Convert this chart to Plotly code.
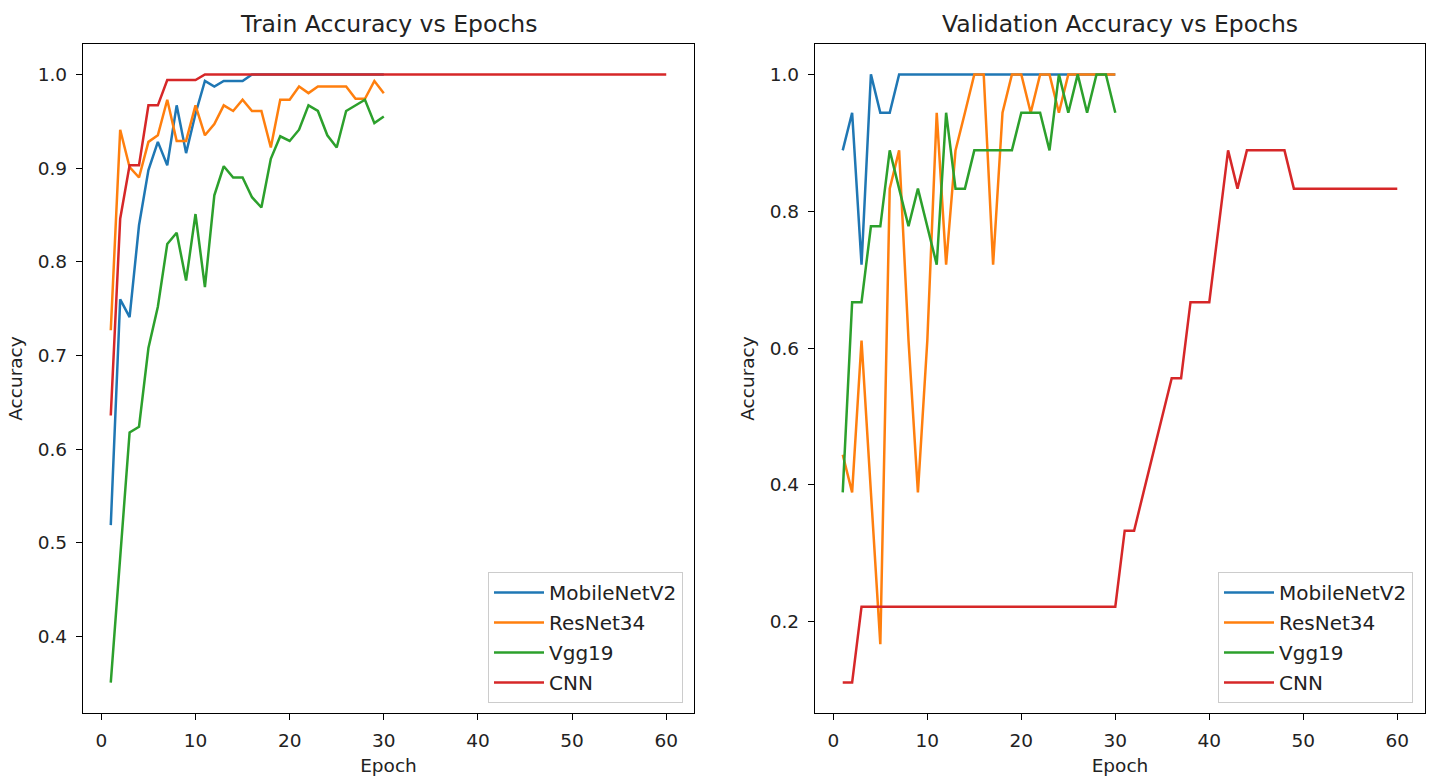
import plotly.graph_objects as go

# ---------------- data ----------------
epochs_30 = list(range(1, 31))
epochs_60 = list(range(1, 61))

models = ["MobileNetV2", "ResNet34", "Vgg19", "CNN"]
colors = ["#1f77b4", "#ff7f0e", "#2ca02c", "#d62728"]

train_mobilenet = [0.519, 0.760, 0.741, 0.839, 0.898, 0.928, 0.903, 0.967, 0.916, 0.958,
                   0.993, 0.987, 0.993, 0.993, 0.993, 1.0, 1.0, 1.0, 1.0, 1.0,
                   1.0, 1.0, 1.0, 1.0, 1.0, 1.0, 1.0, 1.0, 1.0, 1.0]
train_resnet = [0.727, 0.941, 0.901, 0.890, 0.928, 0.935, 0.973, 0.929, 0.929, 0.967,
                0.935, 0.947, 0.967, 0.961, 0.973, 0.961, 0.961, 0.922, 0.973, 0.973,
                0.987, 0.980, 0.987, 0.987, 0.987, 0.987, 0.974, 0.974, 0.993, 0.980]
train_vgg = [0.351, 0.484, 0.618, 0.624, 0.708, 0.752, 0.819, 0.831, 0.780, 0.851,
             0.773, 0.871, 0.902, 0.890, 0.890, 0.869, 0.858, 0.910, 0.934, 0.929,
             0.941, 0.967, 0.961, 0.935, 0.922, 0.961, 0.967, 0.973, 0.948, 0.955]
train_cnn = [0.636, 0.846, 0.903, 0.903, 0.967, 0.967, 0.994, 0.994, 0.994, 0.994,
             1.0, 1.0, 1.0, 1.0, 1.0, 1.0, 1.0, 1.0, 1.0, 1.0,
             1.0, 1.0, 1.0, 1.0, 1.0, 1.0, 1.0, 1.0, 1.0, 1.0,
             1.0, 1.0, 1.0, 1.0, 1.0, 1.0, 1.0, 1.0, 1.0, 1.0,
             1.0, 1.0, 1.0, 1.0, 1.0, 1.0, 1.0, 1.0, 1.0, 1.0,
             1.0, 1.0, 1.0, 1.0, 1.0, 1.0, 1.0, 1.0, 1.0, 1.0]

val_mobilenet = [0.889, 0.944, 0.722, 1.0, 0.944, 0.944, 1.0, 1.0, 1.0, 1.0,
                 1.0, 1.0, 1.0, 1.0, 1.0, 1.0, 1.0, 1.0, 1.0, 1.0,
                 1.0, 1.0, 1.0, 1.0, 1.0, 1.0, 1.0, 1.0, 1.0, 1.0]
val_resnet = [0.444, 0.389, 0.611, 0.389, 0.167, 0.833, 0.889, 0.611, 0.389, 0.611,
              0.944, 0.722, 0.889, 0.944, 1.0, 1.0, 0.722, 0.944, 1.0, 1.0,
              0.944, 1.0, 1.0, 0.944, 1.0, 1.0, 1.0, 1.0, 1.0, 1.0]
val_vgg = [0.389, 0.667, 0.667, 0.778, 0.778, 0.889, 0.833, 0.778, 0.833, 0.778,
           0.722, 0.944, 0.833, 0.833, 0.889, 0.889, 0.889, 0.889, 0.889, 0.944,
           0.944, 0.944, 0.889, 1.0, 0.944, 1.0, 0.944, 1.0, 1.0, 0.944]
val_cnn = [0.111, 0.111, 0.222, 0.222, 0.222, 0.222, 0.222, 0.222, 0.222, 0.222,
           0.222, 0.222, 0.222, 0.222, 0.222, 0.222, 0.222, 0.222, 0.222, 0.222,
           0.222, 0.222, 0.222, 0.222, 0.222, 0.222, 0.222, 0.222, 0.222, 0.222,
           0.333, 0.333, 0.389, 0.444, 0.500, 0.556, 0.556, 0.667, 0.667, 0.667,
           0.778, 0.889, 0.833, 0.889, 0.889, 0.889, 0.889, 0.889, 0.833, 0.833,
           0.833, 0.833, 0.833, 0.833, 0.833, 0.833, 0.833, 0.833, 0.833, 0.833]

x_ticks = [0, 10, 20, 30, 40, 50, 60]
left_y_ticks = [0.4, 0.5, 0.6, 0.7, 0.8, 0.9, 1.0]
right_y_ticks = [0.2, 0.4, 0.6, 0.8, 1.0]

titles = ["Train Accuracy vs Epochs", "Validation Accuracy vs Epochs"]

# ---------------- figure ----------------
W, H = 1432, 780
FONT = "DejaVu Sans"

train_series = [(epochs_30, train_mobilenet), (epochs_30, train_resnet),
                (epochs_30, train_vgg), (epochs_60, train_cnn)]
val_series = [(epochs_30, val_mobilenet), (epochs_30, val_resnet),
              (epochs_30, val_vgg), (epochs_60, val_cnn)]


def padded(lo, hi, frac=0.05):
    m = (hi - lo) * frac
    return [lo - m, hi + m]


fig = go.Figure()
for i, (name, col) in enumerate(zip(models, colors)):
    xs, ys = train_series[i]
    fig.add_trace(go.Scatter(x=xs, y=ys, mode="lines", name=name,
                             line=dict(color=col, width=2.5),
                             xaxis="x", yaxis="y", legend="legend",
                             legendgroup=f"tr{i}"))
for i, (name, col) in enumerate(zip(models, colors)):
    xs, ys = val_series[i]
    fig.add_trace(go.Scatter(x=xs, y=ys, mode="lines", name=name,
                             line=dict(color=col, width=2.5),
                             xaxis="x2", yaxis="y2", legend="legend2",
                             legendgroup=f"va{i}"))

all_x = epochs_60
xr = padded(min(all_x), max(all_x))
tr_all = train_mobilenet + train_resnet + train_vgg + train_cnn
va_all = val_mobilenet + val_resnet + val_vgg + val_cnn
yr_left = padded(min(tr_all), max(tr_all))
yr_right = padded(min(va_all), max(va_all))

left_dom = [83 / W, 694 / W]
right_dom = [815 / W, 1425 / W]
y_dom = [(H - 713) / H, (H - 44) / H]

axis_common = dict(showline=True, linecolor="black", linewidth=1.3, mirror=True,
                   ticks="outside", ticklen=6, tickwidth=1.3, tickcolor="black",
                   showgrid=False, zeroline=False,
                   tickfont=dict(family=FONT, size=18.5, color="#222"),
                   ticklabelstandoff=5)

legend_common = dict(y=(H - 703) / H, yanchor="bottom",
                     bgcolor="rgba(255,255,255,0.8)", bordercolor="#cccccc", borderwidth=1,
                     font=dict(family=FONT, size=20, color="#222"),
                     tracegroupgap=1, itemwidth=50)

fig.update_layout(
    width=W, height=H,
    paper_bgcolor="white", plot_bgcolor="white",
    margin=dict(l=0, r=0, t=0, b=0, autoexpand=False),
    font=dict(family=FONT, color="#222"),
    xaxis=dict(domain=left_dom, anchor="y", range=xr, tickvals=x_ticks,
               title=dict(text="Epoch", font=dict(size=18.5), standoff=8), **axis_common),
    yaxis=dict(domain=y_dom, anchor="x", range=yr_left, tickvals=left_y_ticks,
               tickformat=".1f",
               title=dict(text="Accuracy", font=dict(size=18.5), standoff=10), **axis_common),
    xaxis2=dict(domain=right_dom, anchor="y2", range=xr, tickvals=x_ticks,
                title=dict(text="Epoch", font=dict(size=18.5), standoff=8), **axis_common),
    yaxis2=dict(domain=y_dom, anchor="x2", range=yr_right, tickvals=right_y_ticks,
                tickformat=".1f",
                title=dict(text="Accuracy", font=dict(size=18.5), standoff=10), **axis_common),
    legend=dict(x=683 / W, xanchor="right", **legend_common),
    legend2=dict(x=1413 / W, xanchor="right", **legend_common),
    showlegend=True,
)

for dom, txt in zip([left_dom, right_dom], titles):
    fig.add_annotation(text=txt, xref="paper", yref="paper",
                       x=(dom[0] + dom[1]) / 2, y=(H - 24) / H,
                       xanchor="center", yanchor="middle", showarrow=False,
                       font=dict(family=FONT, size=23.5, color="#222"))

fig.write_html("out.html")
